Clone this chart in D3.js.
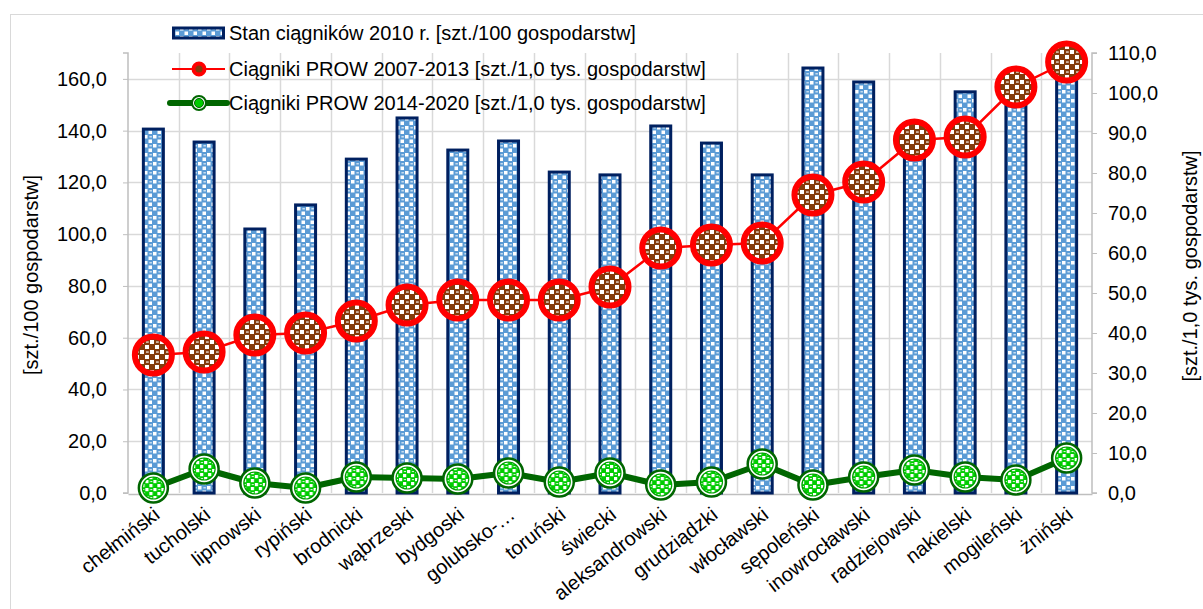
<!DOCTYPE html>
<html>
<head>
<meta charset="utf-8">
<script src="https://cdn.jsdelivr.net/npm/d3@7"></script>
<style>
  html, body { margin: 0; padding: 0; background: #fff; }
  svg text { font-family: "Liberation Sans", Arial, sans-serif; fill: #000; }
</style>
</head>
<body>
<svg id="chart" width="1203" height="609"></svg>
<script>
const categories = ["chełmiński","tucholski","lipnowski","rypiński","brodnicki","wąbrzeski","bydgoski","golubsko-…","toruński","świecki","aleksandrowski","grudziądzki","włocławski","sępoleński","inowrocławski","radziejowski","nakielski","mogileński","żniński"];
const tractors2010 = [140.6,135.6,102,111.3,129,144.9,132.5,136,124,122.9,141.8,135.2,122.9,164.2,158.8,135,155,155,165];
const prow2007 = [34.5,35.25,39.5,40,43,47,48.25,48.25,48.25,51.5,61.25,62,62.5,74.5,77.75,88.25,89,101.5,107.75];
const prow2014 = [1.25,6,2.5,1.25,4,3.75,3.5,5,2.75,5,2,2.75,7.25,2,4,5.75,4,3.25,8.75];
const leftTicks = [0,20,40,60,80,100,120,140,160];
const rightTicks = [0,10,20,30,40,50,60,70,80,90,100,110];
const seriesNames = ["Stan ciągników 2010 r. [szt./100 gospodarstw]","Ciągniki PROW 2007-2013 [szt./1,0 tys. gospodarstw]","Ciągniki PROW 2014-2020 [szt./1,0 tys. gospodarstw]"];
const leftTitle = "[szt./100 gospodarstw]";
const rightTitle = "[szt./1,0 tys. gospodarstw]";

const svg = d3.select("#chart");
const fmt = v => d3.format(".1f")(v).replace(".", ",");
const FS = 20;

// outer border
svg.append("rect").attr("x",10.5).attr("y",14.5).attr("width",1300).attr("height",700)
  .attr("fill","none").attr("stroke","#d9d9d9").attr("stroke-width",1);

const defs = svg.append("defs");
function checker(id, c1, s, w) {
  const p = defs.append("pattern").attr("id", id).attr("patternUnits","userSpaceOnUse")
    .attr("width", s*2).attr("height", s*2);
  p.append("rect").attr("width", s*2).attr("height", s*2).attr("fill", c1);
  p.append("rect").attr("x",0).attr("y",0).attr("width",w).attr("height",w).attr("fill","#fff");
  p.append("rect").attr("x",s).attr("y",s).attr("width",w).attr("height",w).attr("fill","#fff");
  p.append("rect").attr("x",s*1.2).attr("y",s*0.3).attr("width",s*0.55).attr("height",s*0.22).attr("fill","#fff");
}
checker("pBlue", "#5b9bd5", 4.5, 3.5);
checker("pBrown", "#843c0c", 5, 4);
checker("pGreen", "#00cc00", 4, 3.2);

const L = 128, R = 1092, T = 53, B = 493;
const x = d3.scaleBand().domain(categories).range([L, R]).paddingInner(0).paddingOuter(0);
const yL = d3.scaleLinear().domain([0,170]).range([B, T]);
const yR = d3.scaleLinear().domain([0,110]).range([B, T]);

// gridlines
const grid = svg.append("g");
grid.selectAll("line.h").data(leftTicks.filter(d => d > 0)).join("line")
  .attr("x1", L).attr("x2", R).attr("y1", d => Math.round(yL(d))+0.5).attr("y2", d => Math.round(yL(d))+0.5)
  .attr("stroke","#d9d9d9").attr("stroke-width",1.5);
grid.selectAll("line.v").data(categories.slice(1)).join("line")
  .attr("x1", d => Math.round(x(d))+0.5).attr("x2", d => Math.round(x(d))+0.5).attr("y1", T).attr("y2", B)
  .attr("stroke","#d9d9d9").attr("stroke-width",1.5);

// left axis
const axL = svg.append("g").attr("transform",`translate(${L},0)`)
  .call(d3.axisLeft(yL).tickValues(leftTicks).tickFormat(fmt).tickSize(5).tickPadding(16));
axL.select(".domain").attr("stroke","#bfbfbf").attr("stroke-width",1.5).attr("d",`M-5,${T}H0V${B}H-5`);
axL.selectAll(".tick line").attr("stroke","#bfbfbf");
axL.selectAll(".tick text").attr("font-size",FS).attr("font-family",null);

// right axis
const axR = svg.append("g").attr("transform",`translate(${R},0)`)
  .call(d3.axisRight(yR).tickValues(rightTicks).tickFormat(fmt).tickSize(5).tickPadding(11));
axR.select(".domain").attr("stroke","#bfbfbf").attr("stroke-width",1.5).attr("d",`M5,${T}H0V${B}H5`);
axR.selectAll(".tick line").attr("stroke","#bfbfbf");
axR.selectAll(".tick text").attr("font-size",FS).attr("font-family",null);

// bottom axis
const axB = svg.append("g").attr("transform",`translate(0,${B+1})`)
  .call(d3.axisBottom(x).tickSize(0).tickFormat(""));
axB.select(".domain").attr("stroke","#bfbfbf").attr("stroke-width",1.5);

// category labels
svg.append("g").selectAll("text").data(categories).join("text")
  .attr("transform", d => `translate(${x(d)+x.bandwidth()/2-1},${B+13}) rotate(-38)`)
  .attr("text-anchor","end").attr("dy","0.7em").attr("font-size",FS).text(d => d);

// bars
const bw = 20;
svg.append("g").selectAll("rect").data(tractors2010).join("rect")
  .attr("x", (d,i) => x(categories[i]) + x.bandwidth()/2 - bw/2)
  .attr("y", d => yL(d)).attr("width", bw).attr("height", d => B - yL(d))
  .attr("fill","url(#pBlue)").attr("stroke","#002060").attr("stroke-width",3);

const cx = i => x(categories[i]) + x.bandwidth()/2;

// green line
svg.append("path").datum(prow2014)
  .attr("d", d3.line().x((d,i) => cx(i)).y(d => yR(d)))
  .attr("fill","none").attr("stroke","#006600").attr("stroke-width",6).attr("stroke-linejoin","round");
const gm = svg.append("g").selectAll("g").data(prow2014).join("g")
  .attr("transform",(d,i) => `translate(${cx(i)},${yR(d)})`);
gm.append("circle").attr("r",14.5).attr("fill","#fff").attr("stroke","#006600").attr("stroke-width",2.5);
gm.append("circle").attr("r",11).attr("fill","url(#pGreen)").attr("stroke","#00a000").attr("stroke-width",1.2);

// red line
svg.append("path").datum(prow2007)
  .attr("d", d3.line().x((d,i) => cx(i)).y(d => yR(d)))
  .attr("fill","none").attr("stroke","#ff0000").attr("stroke-width",2.5);
svg.append("g").selectAll("circle").data(prow2007).join("circle")
  .attr("cx",(d,i) => cx(i)).attr("cy", d => yR(d)).attr("r",18.5)
  .attr("fill","url(#pBrown)").attr("stroke","#ff0000").attr("stroke-width",6);

// axis titles
svg.append("text").attr("transform","translate(38,275) rotate(-90)").attr("text-anchor","middle")
  .attr("font-size",FS).text(leftTitle);
svg.append("text").attr("transform","translate(1197,266) rotate(-90)").attr("text-anchor","middle")
  .attr("font-size",FS).text(rightTitle);

// legend
const lg = svg.append("g");
const lx = 172, tx = 229, rows = [33, 69, 103];
lg.append("rect").attr("x",lx+1.5).attr("y",rows[0]-5).attr("width",50).attr("height",10)
  .attr("fill","url(#pBlue)").attr("stroke","#002060").attr("stroke-width",3);
lg.append("line").attr("x1",lx).attr("x2",lx+53).attr("y1",rows[1]).attr("y2",rows[1])
  .attr("stroke","#ff0000").attr("stroke-width",2);
lg.append("circle").attr("cx",lx+27).attr("cy",rows[1]).attr("r",5.5).attr("fill","#843c0c")
  .attr("stroke","#ff0000").attr("stroke-width",4);
lg.append("line").attr("x1",lx-2).attr("x2",lx+55).attr("y1",rows[2]).attr("y2",rows[2])
  .attr("stroke","#006600").attr("stroke-width",6).attr("stroke-linecap","round");
lg.append("circle").attr("cx",lx+27).attr("cy",rows[2]).attr("r",7).attr("fill","#fff")
  .attr("stroke","#006600").attr("stroke-width",2);
lg.append("circle").attr("cx",lx+27).attr("cy",rows[2]).attr("r",4.5).attr("fill","#00cc00")
  .attr("stroke","#006600").attr("stroke-width",1);
lg.selectAll("text").data(seriesNames).join("text")
  .attr("x",tx).attr("y",(d,i) => rows[i]).attr("dy","0.36em").attr("font-size",FS).text(d => d);
</script>
</body>
</html>
